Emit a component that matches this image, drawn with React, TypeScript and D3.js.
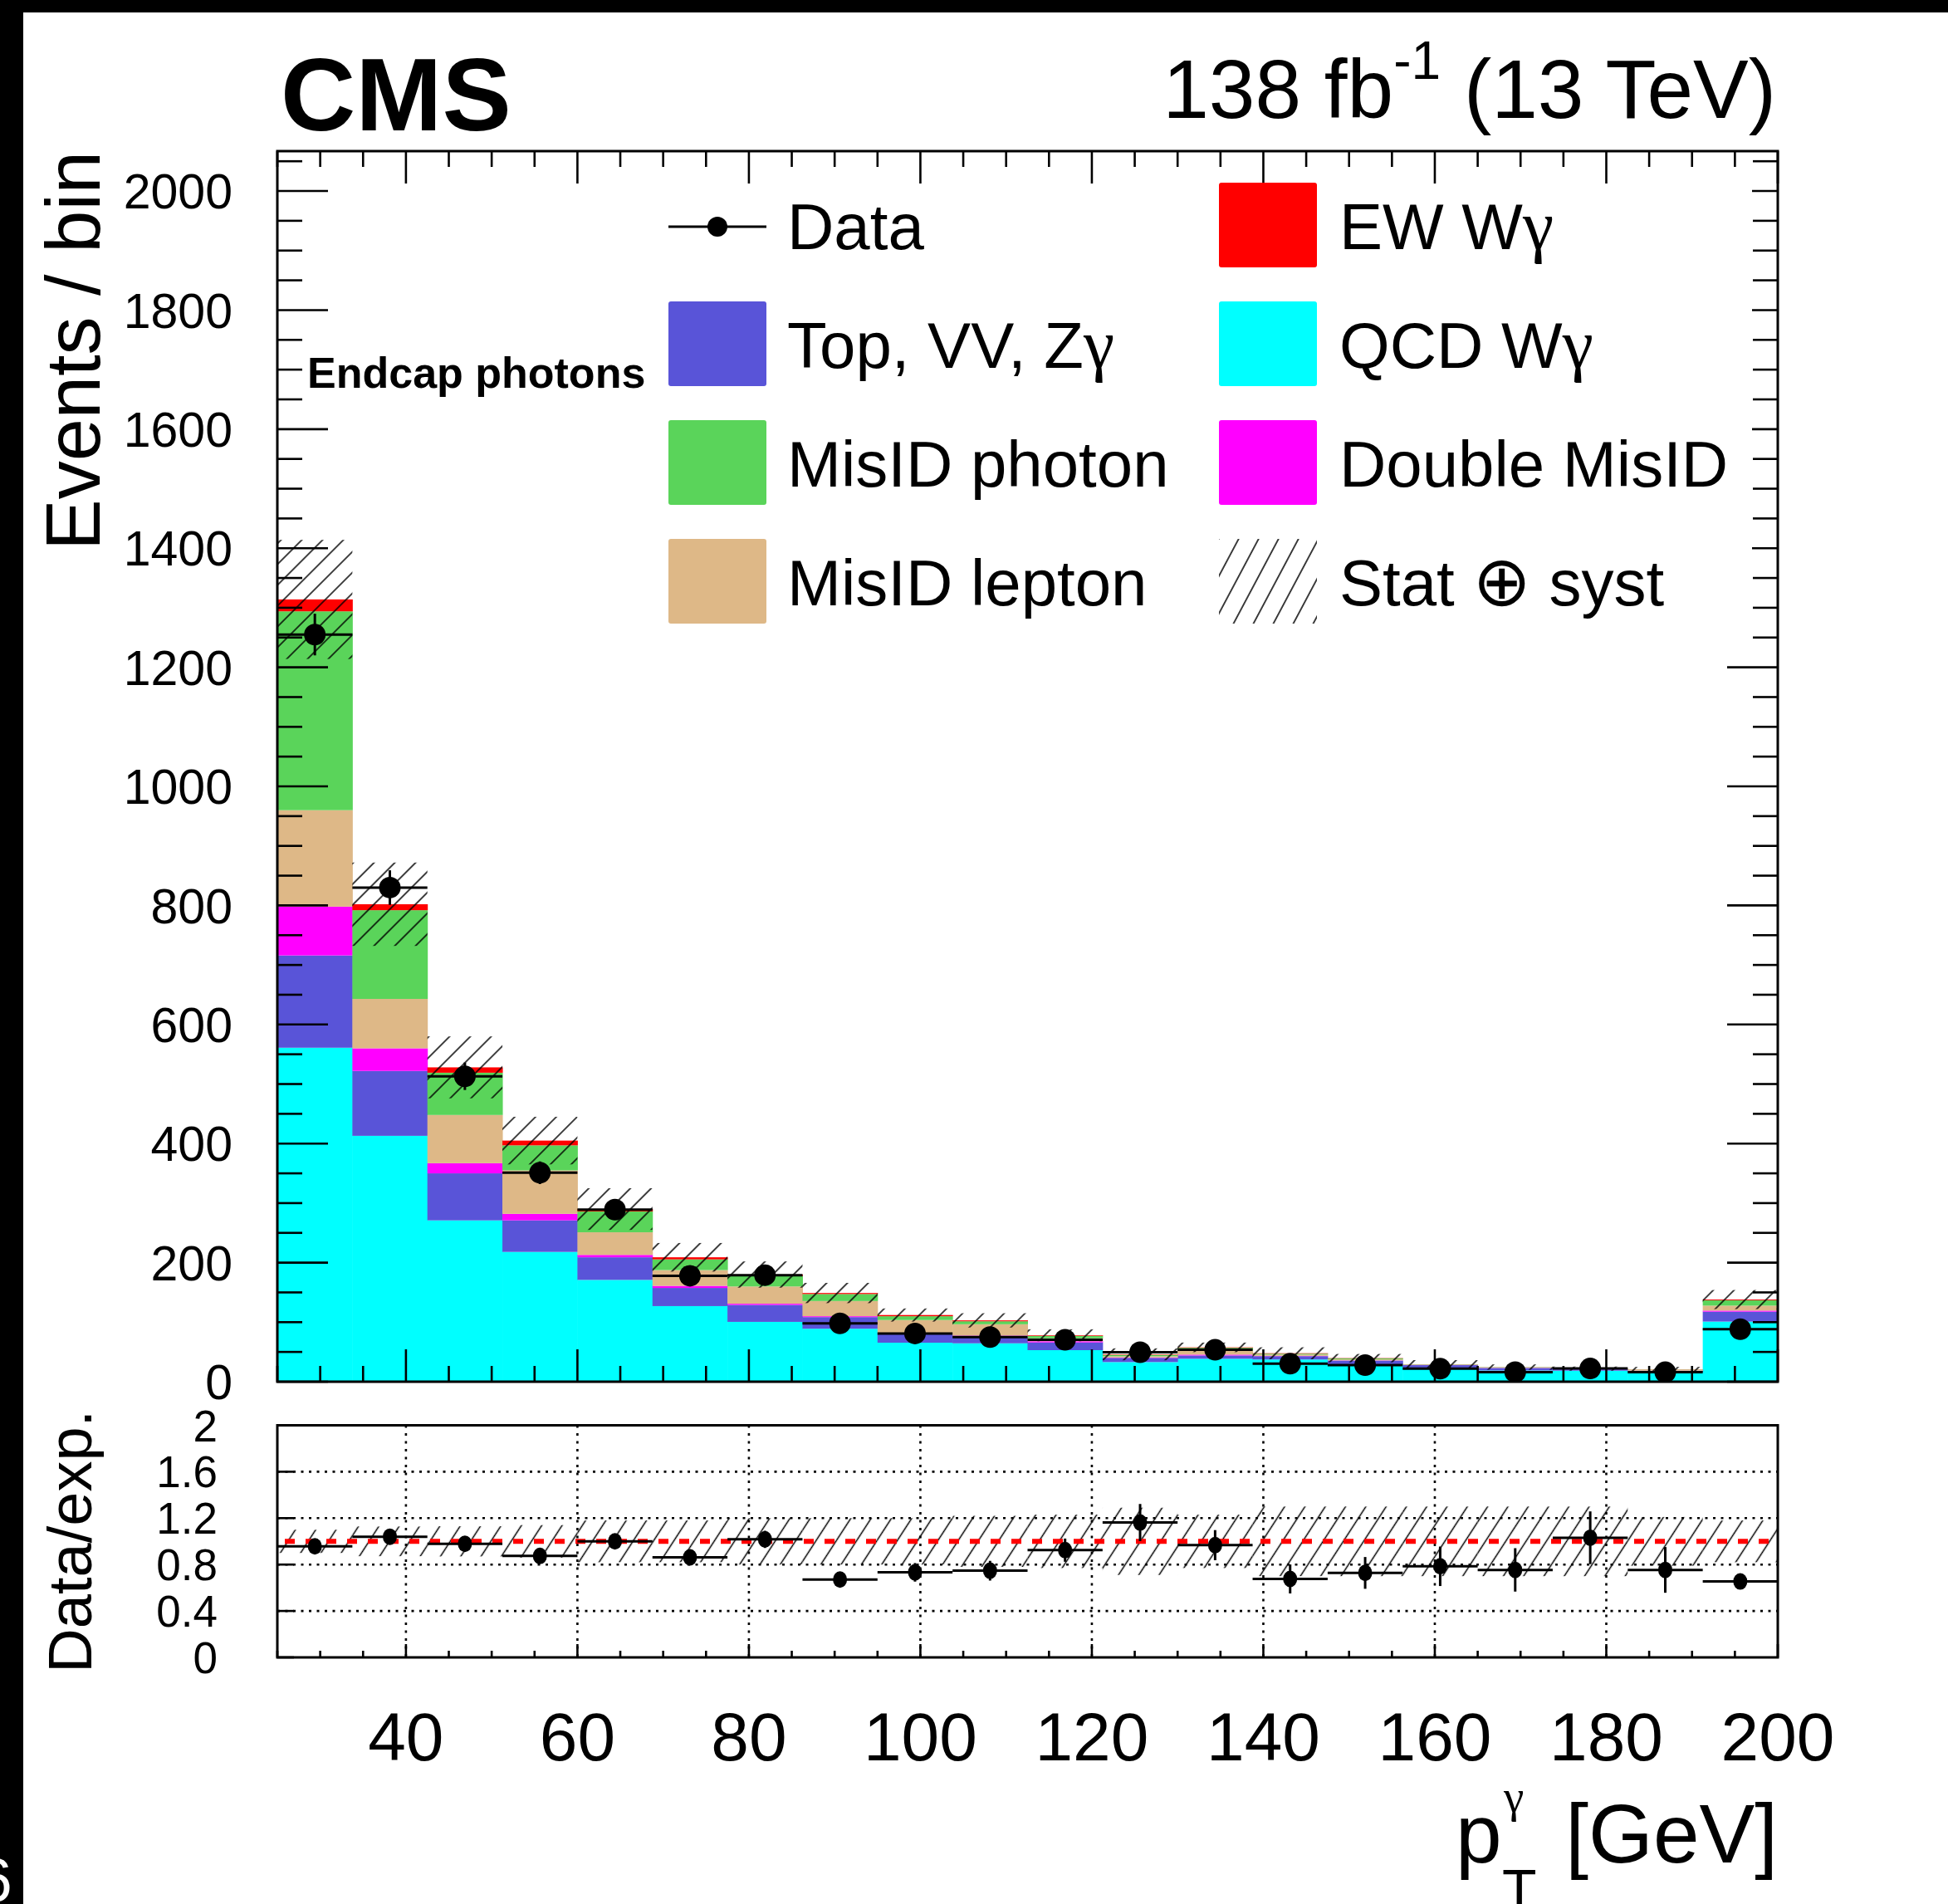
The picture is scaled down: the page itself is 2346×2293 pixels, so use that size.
import React from "react";
import * as d3 from "d3";

// Photon pT binning (GeV)
const binEdges = [25, 33.75, 42.5, 51.25, 60, 68.75, 77.5, 86.25, 95, 103.75, 112.5, 121.25, 130, 138.75, 147.5, 156.25, 165, 173.75, 182.5, 191.25, 200];

// Expected yields per bin, stacked bottom to top
const qcdWg = [561, 413, 271, 218, 171, 127, 100.5, 89, 65.5, 64.5, 53, 33, 38.5, 37.3, 29, 23.8, 18.9, 18.5, 16.5, 101];
const topVVZg = [155, 109, 79, 53, 38, 30.5, 28.5, 19.5, 14.5, 11.5, 13, 7, 5.5, 5.6, 6.5, 4, 4.2, 2.3, 2, 16.6];
const doubleMisID = [82, 38, 17, 11, 4, 3.5, 2, 1.5, 2, 1.5, 2, 0.7, 1.5, 0.5, 0.3, 0.2, 0.2, 0.1, 0.1, 1.8];
const misIDLepton = [162, 83, 81, 73, 38, 26.5, 29, 25.5, 21.6, 19, 5, 2, 6.8, 2.2, 1.8, 0.6, 0.6, 0.5, 1.8, 8.4];
const misIDPhoton = [334, 149, 71, 42, 35, 18, 17.6, 11.8, 6.4, 5, 4, 2.5, 4.7, 1.5, 1.5, 0.5, 0.5, 0.4, 0.3, 8.9];
const ewWg = [20, 10, 9, 8, 4, 3.5, 2.4, 1.7, 2, 1.5, 1, 0.8, 0.7, 0.7, 0.5, 0.2, 0.2, 0.2, 0.2, 1.3];

// Total uncertainty on the expectation (events)
const expectedUnc = [100, 70, 52, 40, 35, 24, 22, 17, 11, 12, 10, 10, 8, 10, 7, 7, 4.5, 3.5, 4, 16];

// Observed data
const dataCounts = [1255, 830, 513, 351, 289, 178, 179, 98, 81, 75, 70.5, 49.5, 53.6, 30.2, 27.9, 21.8, 16.2, 22.2, 15.9, 88.3];
const dataErrors = [35, 29, 23, 19, 17, 13, 13, 10, 9, 9, 8, 7, 7, 5.5, 5.3, 4.7, 4, 4.7, 4, 9.4];

// Lower panel: data / expectation
const ratioValues = [0.957, 1.04, 0.979, 0.874, 1.0, 0.862, 1.017, 0.671, 0.733, 0.747, 0.924, 1.162, 0.967, 0.676, 0.728, 0.785, 0.754, 1.031, 0.754, 0.654];
const ratioErrors = [0.027, 0.035, 0.043, 0.047, 0.059, 0.064, 0.074, 0.066, 0.08, 0.085, 0.1, 0.16, 0.13, 0.125, 0.137, 0.17, 0.187, 0.227, 0.197, 0.066];
const ratioBand = [0.1, 0.128, 0.13, 0.14, 0.18, 0.18, 0.2, 0.2, 0.2, 0.22, 0.23, 0.29, 0.23, 0.3, 0.3, 0.3, 0.3, 0.3, 0.21, 0.18];

// Axis tick labels
const yTickLabels = ["0", "200", "400", "600", "800", "1000", "1200", "1400", "1600", "1800", "2000"];
const ratioTickLabels = ["0", "0.4", "0.8", "1.2", "1.6", "2"];
const xTickLabels = ["40", "60", "80", "100", "120", "140", "160", "180", "200"];

const processKeys = ["qcd", "top", "dmis", "mlep", "mpho", "ew"];
const processColors: Record<string, string> = {
  qcd: "#00ffff",
  top: "#5954d8",
  dmis: "#ff00ff",
  mlep: "#deb887",
  mpho: "#5ad45a",
  ew: "#ff0000",
};

const legendItems = [
  { label: "Data", kind: "data" },
  { label: "EW Wγ", kind: "box", key: "ew" },
  { label: "Top, VV, Zγ", kind: "box", key: "top" },
  { label: "QCD Wγ", kind: "box", key: "qcd" },
  { label: "MisID photon", kind: "box", key: "mpho" },
  { label: "Double MisID", kind: "box", key: "dmis" },
  { label: "MisID lepton", kind: "box", key: "mlep" },
  { label: "Stat ⊕ syst", kind: "hatch" },
];

const W = 2346;
const H = 2293;
const SANS = "'Liberation Sans', Arial, Helvetica, sans-serif";
const SERIF = "'Liberation Serif', 'DejaVu Serif', serif";

function RichLabel({ text }: { text: string }) {
  const parts = text.split(/([γ⊕])/).filter((p) => p.length > 0);
  return (
    <>
      {parts.map((p, i) =>
        p === "γ" ? (
          <tspan key={i} fontFamily={SERIF} fontSize={84}>γ</tspan>
        ) : p === "⊕" ? (
          <tspan key={i} fontFamily="'DejaVu Sans ExtraLight', 'DejaVu Sans', sans-serif" fontSize={84}>⊕</tspan>
        ) : (
          <tspan key={i}>{p}</tspan>
        )
      )}
    </>
  );
}

export default function App() {
  const x = d3.scaleLinear().domain([25, 200]).range([334, 2141]);
  const y = d3.scaleLinear().domain([0, 2067]).range([1664, 182]);
  const yr = d3.scaleLinear().domain([0, 2]).range([1996, 1716.5]);

  const nBins = binEdges.length - 1;
  const table = d3.range(nBins).map((i) => ({
    lo: binEdges[i],
    hi: binEdges[i + 1],
    qcd: qcdWg[i],
    top: topVVZg[i],
    dmis: doubleMisID[i],
    mlep: misIDLepton[i],
    mpho: misIDPhoton[i],
    ew: ewWg[i],
  }));
  const stacked = d3.stack<any>().keys(processKeys)(table);
  const totals = table.map((_, i) => stacked[stacked.length - 1][i][1]);

  const [mx0, mx1] = x.range();
  const my0 = y(0);
  const my1 = 182;
  const ry0 = yr(0);
  const ry1 = yr(2);

  const yMinor = d3.range(0, 2067, 50);
  const yMajor = d3.range(0, 2001, 200);
  const xMinor = d3.range(25, 200.01, 5);
  const xMajor = d3.range(40, 200.01, 20);
  const rMajor = d3.range(0, 2.01, 0.4);

  const tickStroke = 2.6;

  // legend geometry
  const legRowY = [271, 414, 557, 700];
  const legColX = [805, 1468];
  const legTextX = [948, 1613];
  const boxW = 118;
  const boxH = 102;

  return (
    <div style={{ position: "absolute", left: 0, top: 0 }}>
      <svg width={W} height={H} viewBox={`0 0 ${W} ${H}`} fontFamily={SANS}>
        <defs>
          <pattern id="hatchMain" patternUnits="userSpaceOnUse" width={17.7} height={20} patternTransform="rotate(45)">
            <line x1={8.85} y1={-2} x2={8.85} y2={22} stroke="#000" strokeWidth={1.5} />
          </pattern>
          <pattern id="hatchRatio" patternUnits="userSpaceOnUse" width={20.5} height={20} patternTransform="rotate(33)">
            <line x1={10.25} y1={-2} x2={10.25} y2={22} stroke="#000" strokeWidth={1.5} />
          </pattern>
          <pattern id="hatchLegend" patternUnits="userSpaceOnUse" width={21.2} height={20} patternTransform="rotate(28)">
            <line x1={10.6} y1={-2} x2={10.6} y2={22} stroke="#000" strokeWidth={1.5} />
          </pattern>
          <clipPath id="mainClip">
            <rect x={mx0} y={my1} width={mx1 - mx0} height={my0 - my1} />
          </clipPath>
          <clipPath id="ratioClip">
            <rect x={mx0} y={ry1} width={mx1 - mx0} height={ry0 - ry1} />
          </clipPath>
        </defs>

        <rect x={0} y={0} width={W} height={H} fill="#fff" />

        {/* ---------- main panel ---------- */}
        <g clipPath="url(#mainClip)">
          {stacked.map((s) => (
            <g key={s.key} fill={processColors[s.key]}>
              {s.map((d, i) => (
                <rect
                  key={i}
                  x={x(table[i].lo)}
                  width={x(table[i].hi) - x(table[i].lo) + 0.5}
                  y={y(d[1])}
                  height={Math.max(0, y(d[0]) - y(d[1]))}
                />
              ))}
            </g>
          ))}
          {table.map((b, i) => (
            <rect
              key={i}
              x={x(b.lo)}
              width={x(b.hi) - x(b.lo)}
              y={y(totals[i] + expectedUnc[i])}
              height={y(totals[i] - expectedUnc[i]) - y(totals[i] + expectedUnc[i])}
              fill="url(#hatchMain)"
            />
          ))}
          {table.map((b, i) => {
            const cx = x((b.lo + b.hi) / 2);
            const cy = y(dataCounts[i]);
            return (
              <g key={i} stroke="#000" strokeWidth={3}>
                <line x1={x(b.lo)} x2={x(b.hi)} y1={cy} y2={cy} />
                <line x1={cx} x2={cx} y1={y(dataCounts[i] - dataErrors[i])} y2={y(dataCounts[i] + dataErrors[i])} />
                <circle cx={cx} cy={cy} r={13} fill="#000" stroke="none" />
              </g>
            );
          })}
        </g>

        {/* main axes ticks */}
        <g stroke="#000" strokeWidth={tickStroke}>
          {yMinor.map((v) => {
            const len = v % 200 === 0 ? 61 : 30;
            return (
              <g key={v}>
                <line x1={mx0} x2={mx0 + len} y1={y(v)} y2={y(v)} />
                <line x1={mx1} x2={mx1 - len} y1={y(v)} y2={y(v)} />
              </g>
            );
          })}
          {xMinor.map((v) => {
            const len = xMajor.includes(v) ? 39 : 19;
            return (
              <g key={v}>
                <line x1={x(v)} x2={x(v)} y1={my0} y2={my0 - len} />
                <line x1={x(v)} x2={x(v)} y1={my1} y2={my1 + len} />
              </g>
            );
          })}
        </g>

        {/* legend */}
        <rect x={790} y={226} width={2110 - 790} height={540} fill="#fff" />
        {legendItems.map((item, k) => {
          const col = k % 2;
          const row = Math.floor(k / 2);
          const cy = legRowY[row];
          const bx = legColX[col];
          return (
            <g key={k}>
              {item.kind === "data" && (
                <g>
                  <line x1={bx} x2={bx + boxW} y1={cy + 2} y2={cy + 2} stroke="#000" strokeWidth={3} />
                  <circle cx={bx + boxW / 2} cy={cy + 2} r={12} fill="#000" />
                </g>
              )}
              {item.kind === "box" && (
                <rect x={bx} y={cy - boxH / 2} width={boxW} height={boxH} rx={3} fill={processColors[item.key as string]} />
              )}
              {item.kind === "hatch" && (
                <rect x={bx} y={cy - boxH / 2} width={boxW} height={boxH} fill="url(#hatchLegend)" />
              )}
              <text x={legTextX[col]} y={cy + 29} fontSize={78} fill="#000">
                <RichLabel text={item.label} />
              </text>
            </g>
          );
        })}

        {/* main frame */}
        <rect x={mx0} y={my1} width={mx1 - mx0} height={my0 - my1} fill="none" stroke="#000" strokeWidth={3} />

        {/* main y labels */}
        <g fontSize={59} textAnchor="end">
          {yMajor.map((v, i) => (
            <text key={v} x={280} y={y(v)} dy="0.36em">
              {yTickLabels[i]}
            </text>
          ))}
        </g>
        <text transform={`translate(120,${my1}) rotate(-90)`} textAnchor="end" fontSize={92}>
          Events / bin
        </text>
        <text x={370} y={467} fontSize={52} fontWeight="bold">
          Endcap photons
        </text>

        {/* ---------- ratio panel ---------- */}
        <g stroke="#000" strokeWidth={2.6} strokeDasharray="3 6.5">
          {[0.4, 0.8, 1.2, 1.6].map((v) => (
            <line key={v} x1={mx0} x2={mx1} y1={yr(v)} y2={yr(v)} />
          ))}
          {xMajor.filter((v) => v < 200).map((v) => (
            <line key={v} x1={x(v)} x2={x(v)} y1={ry1} y2={ry0} />
          ))}
        </g>
        <g clipPath="url(#ratioClip)">
          {table.map((b, i) => (
            <rect
              key={i}
              x={x(b.lo)}
              width={x(b.hi) - x(b.lo)}
              y={yr(1 + ratioBand[i])}
              height={yr(1 - ratioBand[i]) - yr(1 + ratioBand[i])}
              fill="url(#hatchRatio)"
            />
          ))}
          <line
            x1={x(25)}
            x2={x(200)}
            y1={yr(1)}
            y2={yr(1)}
            stroke="#ff0000"
            strokeWidth={6}
            strokeDasharray="12 13"
            strokeDashoffset={16}
          />
          {table.map((b, i) => {
            const cx = x((b.lo + b.hi) / 2);
            const cy = yr(ratioValues[i]);
            return (
              <g key={i} stroke="#000" strokeWidth={3}>
                <line x1={x(b.lo)} x2={x(b.hi)} y1={cy} y2={cy} />
                <line x1={cx} x2={cx} y1={yr(ratioValues[i] - ratioErrors[i])} y2={yr(ratioValues[i] + ratioErrors[i])} />
                <ellipse cx={cx} cy={cy} rx={8.5} ry={10} fill="#000" stroke="none" />
              </g>
            );
          })}
        </g>
        <g stroke="#000" strokeWidth={tickStroke}>
          {rMajor.map((v) => (
            <line key={v} x1={mx0} x2={mx0 + 20} y1={yr(v)} y2={yr(v)} />
          ))}
          {xMinor.map((v) => {
            const len = xMajor.includes(v) ? 16 : 8;
            return <line key={v} x1={x(v)} x2={x(v)} y1={ry0} y2={ry0 - len} />;
          })}
        </g>
        <rect x={mx0} y={ry1} width={mx1 - mx0} height={ry0 - ry1} fill="none" stroke="#000" strokeWidth={3} />

        <g fontSize={53} textAnchor="end">
          {rMajor.map((v, i) => (
            <text key={i} x={262} y={yr(v)} dy="0.36em">
              {ratioTickLabels[i]}
            </text>
          ))}
        </g>
        <text transform={`translate(110,${(ry0 + ry1) / 2}) rotate(-90)`} textAnchor="middle" fontSize={74}>
          Data/exp.
        </text>

        {/* x axis labels */}
        <g fontSize={82} textAnchor="middle">
          {xMajor.map((v, i) => (
            <text key={v} x={x(v)} y={2120}>
              {xTickLabels[i]}
            </text>
          ))}
        </g>
        <text x={1753} y={2243} fontSize={100}>p</text>
        <text x={1809} y={2299} fontSize={68}>T</text>
        <text x={1811} y={2182} fontSize={55} fontFamily={SERIF}>γ</text>
        <text x={2141} y={2243} fontSize={100} textAnchor="end">[GeV]</text>

        {/* header */}
        <text x={338} y={157} fontSize={125} fontWeight="bold">CMS</text>
        <text x={2139} y={142} fontSize={100} textAnchor="end">
          138 fb<tspan dy={-47} fontSize={64}>-1</tspan>
          <tspan dy={47}> (13 TeV)</tspan>
        </text>

        {/* page border */}
        <rect x={0} y={0} width={W} height={15} fill="#000" />
        <rect x={0} y={0} width={28} height={H} fill="#000" />
        <text x={-27} y={2290} fontSize={75} fill="#fff">6</text>
      </svg>
    </div>
  );
}
